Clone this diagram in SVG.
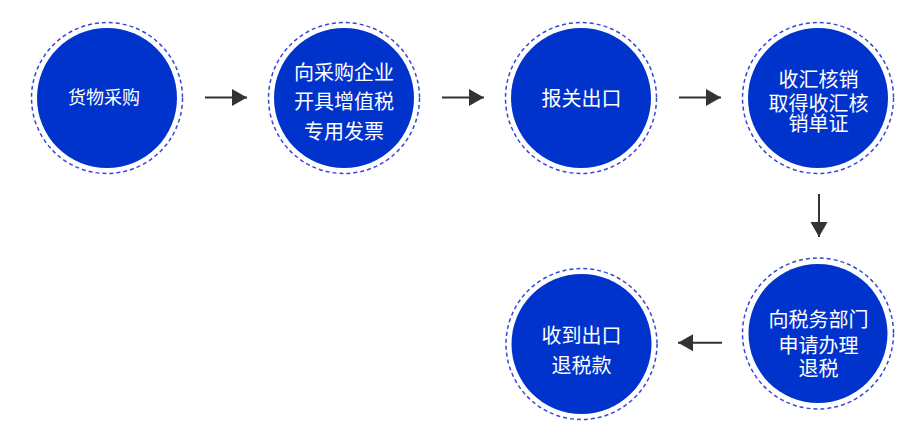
<svg xmlns="http://www.w3.org/2000/svg" width="923" height="441" viewBox="0 0 923 441">
<style>
.ring{fill:none;stroke:#3349d6;stroke-width:1.5;stroke-dasharray:4 3}
.disk{fill:#0033cc}
.t{font-family:"Noto Sans CJK SC","Microsoft YaHei",sans-serif;font-size:20px;fill:#ffffff;text-anchor:middle}
.c{stroke:#333333;stroke-width:2;fill:none;marker-end:url(#ah)}
</style>
<defs>
<marker id="ah" markerUnits="userSpaceOnUse" markerWidth="16" markerHeight="18" refX="15" refY="8.5" orient="auto" viewBox="0 0 16 18">
<path d="M0,0 L15,8.5 L0,17 z" fill="#333333"/>
</marker>
</defs>
<rect width="923" height="441" fill="#ffffff"/>
<g id="n1">
<circle class="ring" cx="107" cy="98" r="75.5"/>
<circle class="disk" cx="107" cy="98" r="70"/>
<text class="t" x="104" y="104" style="font-size:18px">货物采购</text>
</g>
<g id="n2">
<circle class="ring" cx="344" cy="98" r="75.5"/>
<circle class="disk" cx="344" cy="98" r="70"/>
<text class="t" x="344" y="80">向采购企业</text>
<text class="t" x="344" y="109">开具增值税</text>
<text class="t" x="344" y="139">专用发票</text>
</g>
<g id="n3">
<circle class="ring" cx="581" cy="98" r="75.5"/>
<circle class="disk" cx="581" cy="98" r="70"/>
<text class="t" x="581.5" y="106">报关出口</text>
</g>
<g id="n4">
<circle class="ring" cx="818" cy="98" r="75.5"/>
<circle class="disk" cx="818" cy="98" r="70"/>
<text class="t" x="818.5" y="87">收汇核销</text>
<text class="t" x="818.5" y="111">取得收汇核</text>
<text class="t" x="818.5" y="131">销单证</text>
</g>
<g id="n5">
<circle class="ring" cx="818" cy="333.5" r="75.5"/>
<circle class="disk" cx="818" cy="333.5" r="69.5"/>
<text class="t" x="818.5" y="327">向税务部门</text>
<text class="t" x="818.5" y="353">申请办理</text>
<text class="t" x="818.5" y="376">退税</text>
</g>
<g id="n6">
<circle class="ring" cx="581.5" cy="344" r="75.5"/>
<circle class="disk" cx="581.5" cy="344" r="70"/>
<text class="t" x="581.5" y="343">收到出口</text>
<text class="t" x="581.5" y="373">退税款</text>
</g>
<g id="connectors">
<line class="c" x1="205" y1="97.5" x2="247" y2="97.5"/>
<line class="c" x1="442" y1="97.5" x2="484" y2="97.5"/>
<line class="c" x1="679" y1="97.5" x2="721" y2="97.5"/>
<line class="c" x1="819" y1="194" x2="819" y2="237"/>
<line class="c" x1="722" y1="342.7" x2="678" y2="342.7"/>
</g>
</svg>
